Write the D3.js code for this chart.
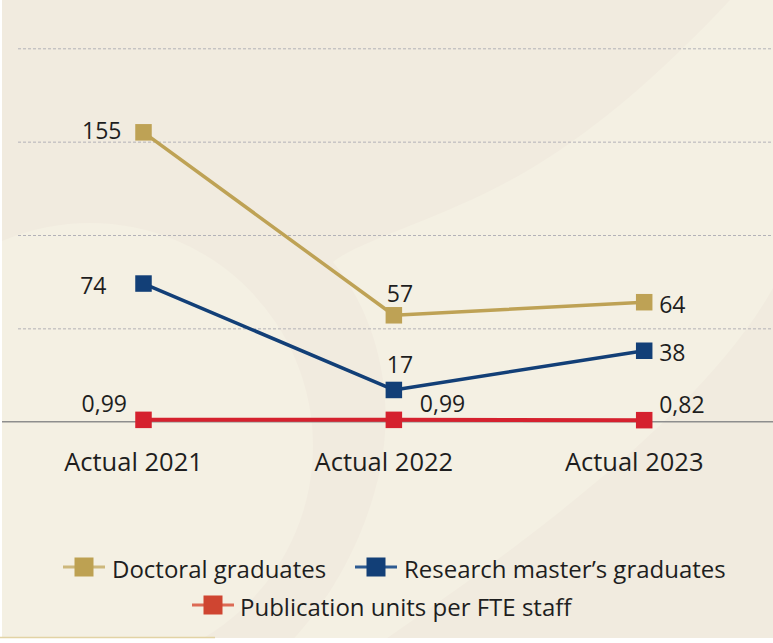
<!DOCTYPE html>
<html>
<head>
<meta charset="utf-8">
<script src="https://cdn.jsdelivr.net/npm/d3@7"></script>
<style>
  html, body { margin: 0; padding: 0; background: #ffffff; }
  svg { display: block; font-family: "Open Sans", "Noto Sans", sans-serif; }
</style>
</head>
<body>
<svg id="chart" width="773" height="643"></svg>
<script>
// ---- data ----
const categories = ["Actual 2021", "Actual 2022", "Actual 2023"];
const doctoralGraduates = [155, 57, 64];
const researchMasterGraduates = [74, 17, 38];
const publicationUnits = [0.99, 0.99, 0.82];
const doctoralLabels = ["155", "57", "64"];
const researchLabels = ["74", "17", "38"];
const publicationLabels = ["0,99", "0,99", "0,82"];
const gridTicks = [50, 100, 150, 200];
const seriesNames = ["Doctoral graduates", "Research master\u2019s graduates", "Publication units per FTE staff"];

// ---- layout / styles ----
const W = 773, H = 643;
const svg = d3.select("#chart");

const x = d3.scalePoint().domain(categories).range([143.5, 644.2]);
const y = d3.scaleLinear().domain([0, 200]).range([421.7, 48.3]);

const BG_DARK = "#f1ebdf", BG_LIGHT = "#f4f0e3";

// background
svg.append("rect").attr("width", W).attr("height", H).attr("fill", BG_DARK);
svg.append("circle").attr("cx", 90).attr("cy", 446).attr("r", 223).attr("fill", BG_LIGHT);
svg.append("path")
  .attr("d", "M730,0 C660,75 590,135 520,175 C440,220 360,240 333,262 C380,320 395,400 380,470 C365,540 330,600 290,643 L380,643 C500,560 700,420 773,288 L773,0 Z")
  .attr("fill", BG_LIGHT);
// frame edges
svg.append("rect").attr("x", 0).attr("y", 0).attr("width", 2).attr("height", H).attr("fill", "#ffffff");
svg.append("rect").attr("x", 0).attr("y", 638).attr("width", W).attr("height", 5).attr("fill", "#ffffff");
svg.append("line").attr("x1", 0).attr("x2", 215).attr("y1", 637.5).attr("y2", 637.5)
  .attr("stroke", "#e2d3a4").attr("stroke-width", 1.5);

// gridlines
const grid = svg.append("g").attr("transform", "translate(18,0)")
  .call(d3.axisRight(y).tickValues(gridTicks).tickSize(W - 18).tickFormat(""));
grid.select(".domain").remove();
grid.selectAll(".tick line")
  .attr("stroke", "#b3b2b8").attr("stroke-width", 1).attr("stroke-dasharray", "3,2");

// baseline
svg.append("line").attr("x1", 2).attr("x2", W).attr("y1", y(0)).attr("y2", y(0))
  .attr("stroke", "#8e8e8e").attr("stroke-width", 1.5);

// x axis labels
const xAxis = svg.append("g").attr("transform", `translate(0,${y(0)})`)
  .call(d3.axisBottom(x).tickSize(0).tickPadding(0));
xAxis.select(".domain").remove();
xAxis.selectAll(".tick text")
  .attr("y", 471 - y(0)).attr("dy", 0).attr("dx", -10.5)
  .attr("fill", "#1e1e1e").attr("font-size", 25.5)
  .attr("font-family", '"Open Sans", "Noto Sans", sans-serif');

// series
const series = [
  { name: seriesNames[0], values: doctoralGraduates, labels: doctoralLabels, color: "#bea255", legendLine: "#cdb87c", legendSq: "#bda152",
    offsets: [[-22, 6.6, "end"], [-7, -13.6, "start"], [15, 11, "start"]], width: 3.5 },
  { name: seriesNames[1], values: researchMasterGraduates, labels: researchLabels, color: "#123f77", legendLine: "#2d5a91", legendSq: "#123f77",
    offsets: [[-37, 10.4, "end"], [-7, -17, "start"], [15, 10, "start"]], width: 3.5 },
  { name: seriesNames[2], values: publicationUnits, labels: publicationLabels, color: "#d5212e", legendLine: "#dc6a55", legendSq: "#cf4531",
    offsets: [[-16.5, -7.5, "end"], [26, -7.5, "start"], [15, -7, "start"]], width: 4 }
];

const line = d3.line().x((d, i) => x(categories[i])).y(d => y(d));
const MS = 16.5;

series.slice().reverse().forEach(s => {
  const g = svg.append("g");
  g.append("path").attr("d", line(s.values)).attr("fill", "none")
    .attr("stroke", s.color).attr("stroke-width", s.width).attr("stroke-linejoin", "round");
  g.selectAll("rect").data(s.values).join("rect")
    .attr("x", (d, i) => x(categories[i]) - MS / 2)
    .attr("y", d => y(d) - MS / 2)
    .attr("width", MS).attr("height", MS).attr("fill", s.color);
});

series.forEach(s => {
  svg.append("g").selectAll("text").data(s.values).join("text")
    .attr("x", (d, i) => x(categories[i]) + s.offsets[i][0])
    .attr("y", (d, i) => y(d) + s.offsets[i][1])
    .attr("text-anchor", (d, i) => s.offsets[i][2])
    .attr("font-size", 23).attr("fill", "#1e1e1e")
    .text((d, i) => s.labels[i]);
});

// legend
const legendPos = [
  { lx: 63, cy: 567, tx: 112 },
  { lx: 355, cy: 567, tx: 404 },
  { lx: 192, cy: 605, tx: 240 }
];
series.forEach((s, i) => {
  const p = legendPos[i];
  const g = svg.append("g");
  g.append("line").attr("x1", p.lx).attr("x2", p.lx + 42).attr("y1", p.cy).attr("y2", p.cy)
    .attr("stroke", s.legendLine).attr("stroke-width", 3);
  g.append("rect").attr("x", p.lx + 11.5).attr("y", p.cy - 9.5).attr("width", 19).attr("height", 19)
    .attr("fill", s.legendSq);
  g.append("text").attr("x", p.tx).attr("y", p.cy + 10.5)
    .attr("font-size", 24).attr("fill", "#1e1e1e").text(s.name);
});
</script>
</body>
</html>
